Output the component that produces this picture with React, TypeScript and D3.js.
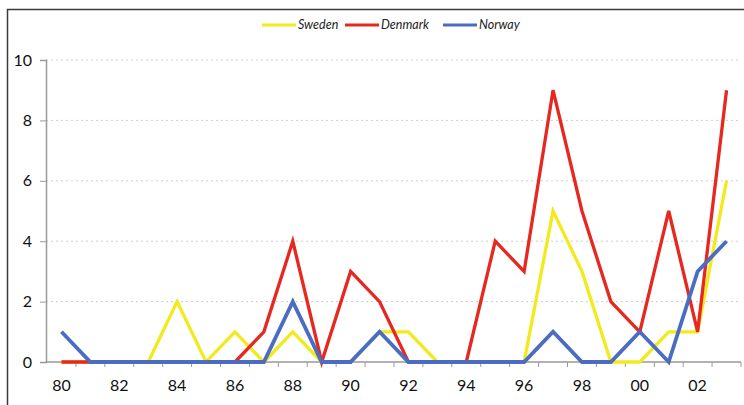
import React, { useEffect, useRef } from 'react';
import * as d3 from 'd3';

const years = [
  '80', '81', '82', '83', '84', '85', '86', '87', '88', '89', '90', '91',
  '92', '93', '94', '95', '96', '97', '98', '99', '00', '01', '02', '03',
];
const sweden = [0, 0, 0, 0, 2, 0, 1, 0, 1, 0, 0, 1, 1, 0, 0, 0, 0, 5, 3, 0, 0, 1, 1, 6];
const denmark = [0, 0, 0, 0, 0, 0, 0, 1, 4, 0, 3, 2, 0, 0, 0, 4, 3, 9, 5, 2, 1, 5, 1, 9];
const norway = [1, 0, 0, 0, 0, 0, 0, 0, 2, 0, 0, 1, 0, 0, 0, 0, 0, 1, 0, 0, 1, 0, 3, 4];
const yTicks = [0, 2, 4, 6, 8, 10];

const seriesList = [
  { name: 'Sweden', values: sweden, color: '#f2ea1c' },
  { name: 'Denmark', values: denmark, color: '#e62820' },
  { name: 'Norway', values: norway, color: '#4a6cc2' },
];

const App = () => {
  const svg = useRef(null);
  const width = 744;
  const height = 405;
  const margin = { top: 60, right: 3, bottom: 43, left: 46 };

  const renderChart = (svg: any) => {
    svg.selectAll('*').remove();

    const xscale = d3
      .scaleBand()
      .domain(years)
      .range([margin.left + 1, width - margin.right]);

    const yscale = d3
      .scaleLinear()
      .domain([0, 10])
      .range([height - margin.bottom, margin.top]);

    // frame (top + left edges)
    svg.append('path')
      .attr('d', `M7.5,${height} L7.5,9.5 L${width},9.5`)
      .attr('fill', 'none')
      .attr('stroke', '#3a3a3a')
      .attr('stroke-width', 1.5);

    // grid
    svg.append('g')
      .selectAll('line')
      .data(yTicks.filter(d => d > 0))
      .enter()
      .append('line')
      .attr('x1', margin.left)
      .attr('x2', width - margin.right)
      .attr('y1', (d: number) => yscale(d))
      .attr('y2', (d: number) => yscale(d))
      .attr('stroke', '#cfcfcf')
      .attr('stroke-dasharray', '2,3');

    // y axis
    const yAxis = d3.axisLeft(yscale).tickValues(yTicks).tickSize(6).tickPadding(8);
    const gy = svg.append('g')
      .attr('transform', `translate(${margin.left}, 0)`)
      .call(yAxis);
    gy.select('.domain').attr('stroke', '#999').attr('stroke-width', 1.5);
    gy.selectAll('.tick line').attr('stroke', '#999');
    gy.selectAll('.tick text')
      .attr('font-family', 'Lato, sans-serif')
      .attr('font-size', 16)
      .attr('fill', '#111');

    // x axis: ticks at band boundaries, labels every other year
    const x0 = margin.left;
    const x1 = width - margin.right;
    const yBase = yscale(0);
    const gx = svg.append('g');
    gx.append('line')
      .attr('x1', x0).attr('x2', x1)
      .attr('y1', yBase).attr('y2', yBase)
      .attr('stroke', '#999').attr('stroke-width', 1.5);
    gx.selectAll('.xt')
      .data(years)
      .enter()
      .append('line')
      .attr('x1', (d: string) => (xscale(d) as number) + xscale.bandwidth())
      .attr('x2', (d: string) => (xscale(d) as number) + xscale.bandwidth())
      .attr('y1', yBase)
      .attr('y2', yBase + 5)
      .attr('stroke', '#999');
    gx.selectAll('.xl')
      .data(years.filter((_, i) => i % 2 === 0))
      .enter()
      .append('text')
      .attr('x', (d: string) => (xscale(d) as number) + xscale.bandwidth() / 2)
      .attr('y', yBase + 29)
      .attr('text-anchor', 'middle')
      .attr('font-family', 'Lato, sans-serif')
      .attr('font-size', 16)
      .attr('fill', '#111')
      .text((d: string) => d);

    // lines
    const line = d3
      .line<number>()
      .x((_, i) => (xscale(years[i]) as number) + xscale.bandwidth() / 2)
      .y(d => yscale(d));

    svg.append('g')
      .selectAll('path')
      .data(seriesList)
      .enter()
      .append('path')
      .attr('d', (s: any) => line(s.values))
      .attr('fill', 'none')
      .attr('stroke', (s: any) => s.color)
      .attr('stroke-width', (s: any) => (s.name === 'Norway' ? 3.8 : 3.3))
      .attr('stroke-linejoin', 'miter');

    // legend
    const legendX = [262, 345, 443];
    const lg = svg.append('g').attr('transform', 'translate(0, 25)');
    seriesList.forEach((s, i) => {
      lg.append('line')
        .attr('x1', legendX[i])
        .attr('x2', legendX[i] + 34)
        .attr('y1', 0)
        .attr('y2', 0)
        .attr('stroke', s.color)
        .attr('stroke-width', 3);
      lg.append('text')
        .attr('x', legendX[i] + 36)
        .attr('y', 4)
        .attr('font-family', 'Lato, sans-serif')
        .attr('font-style', 'italic')
        .attr('font-size', 12.5)
        .attr('fill', '#222')
        .text(s.name);
    });
  };

  useEffect(() => {
    renderChart(d3.select(svg.current));
  }, []);

  return (
    <svg
      ref={svg}
      width={width}
      height={height}
      style={{ position: 'absolute', left: 0, top: 0, background: '#fff' }}
    />
  );
};

export default App;
